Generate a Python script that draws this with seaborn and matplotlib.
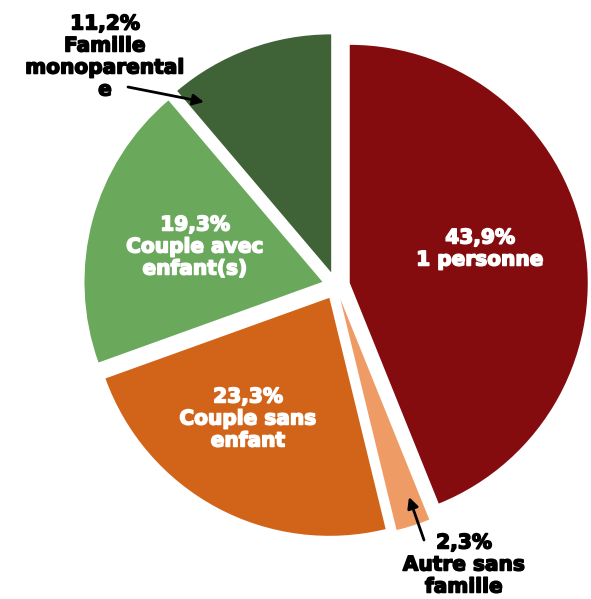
import matplotlib
matplotlib.use("Agg")
import matplotlib.pyplot as plt
import matplotlib.patheffects as pe
import seaborn as sns

# Household composition shares (%)
categories = ["1 personne", "Autre sans famille", "Couple sans enfant",
              "Couple avec enfant(s)", "Famille monoparentale"]
shares = [43.9, 2.3, 23.3, 19.3, 11.2]
labels = ["43,9%\n1 personne", "2,3%\nAutre sans\nfamille",
          "23,3%\nCouple sans\nenfant", "19,3%\nCouple avec\nenfant(s)",
          "11,2%\nFamille\nmonoparental\ne"]
colors = ["#840B0E", "#EF9B65", "#D2641A", "#6AA85C", "#3F6337"]

sns.set_theme(style="white")
plt.rcParams["font.family"] = ["DejaVu Sans"]

W, H = 591, 599
fig = plt.figure(figsize=(W / 100, H / 100), dpi=100)
ax = fig.add_axes([0, 0, 1, 1])

cx, cy, r = 336, H - 285.5, 238
wedges, _ = ax.pie(shares, colors=colors, startangle=90, counterclock=False,
                   explode=[14] * len(shares), radius=r, center=(cx, cy),
                   wedgeprops=dict(linewidth=0))
ax.set_xlim(0, W)
ax.set_ylim(0, H)
ax.set_aspect("equal")
ax.axis("off")


def label(x, y, s, color):
    ax.text(x, H - y, s, color=color, ha="center", va="center", fontsize=14.5,
            fontweight="bold", linespacing=1.2,
            path_effects=[pe.withStroke(linewidth=1.1, foreground=color)])


arrow = dict(arrowstyle="-|>", color="black", lw=2, mutation_scale=16,
             shrinkA=0, shrinkB=0)

# labels inside the large slices
label(480, 249, labels[0], "white")
label(248, 419, labels[2], "white")
label(195, 247, labels[3], "white")

# labels outside the small slices, with arrows
label(105, 57, labels[4], "black")
ax.annotate("", xy=(204, H - 102), xytext=(128, H - 87), arrowprops=arrow)
label(464, 565, labels[1], "black")
ax.annotate("", xy=(409, H - 497), xytext=(424, H - 540), arrowprops=arrow)

fig.savefig("out.png", dpi=100)
